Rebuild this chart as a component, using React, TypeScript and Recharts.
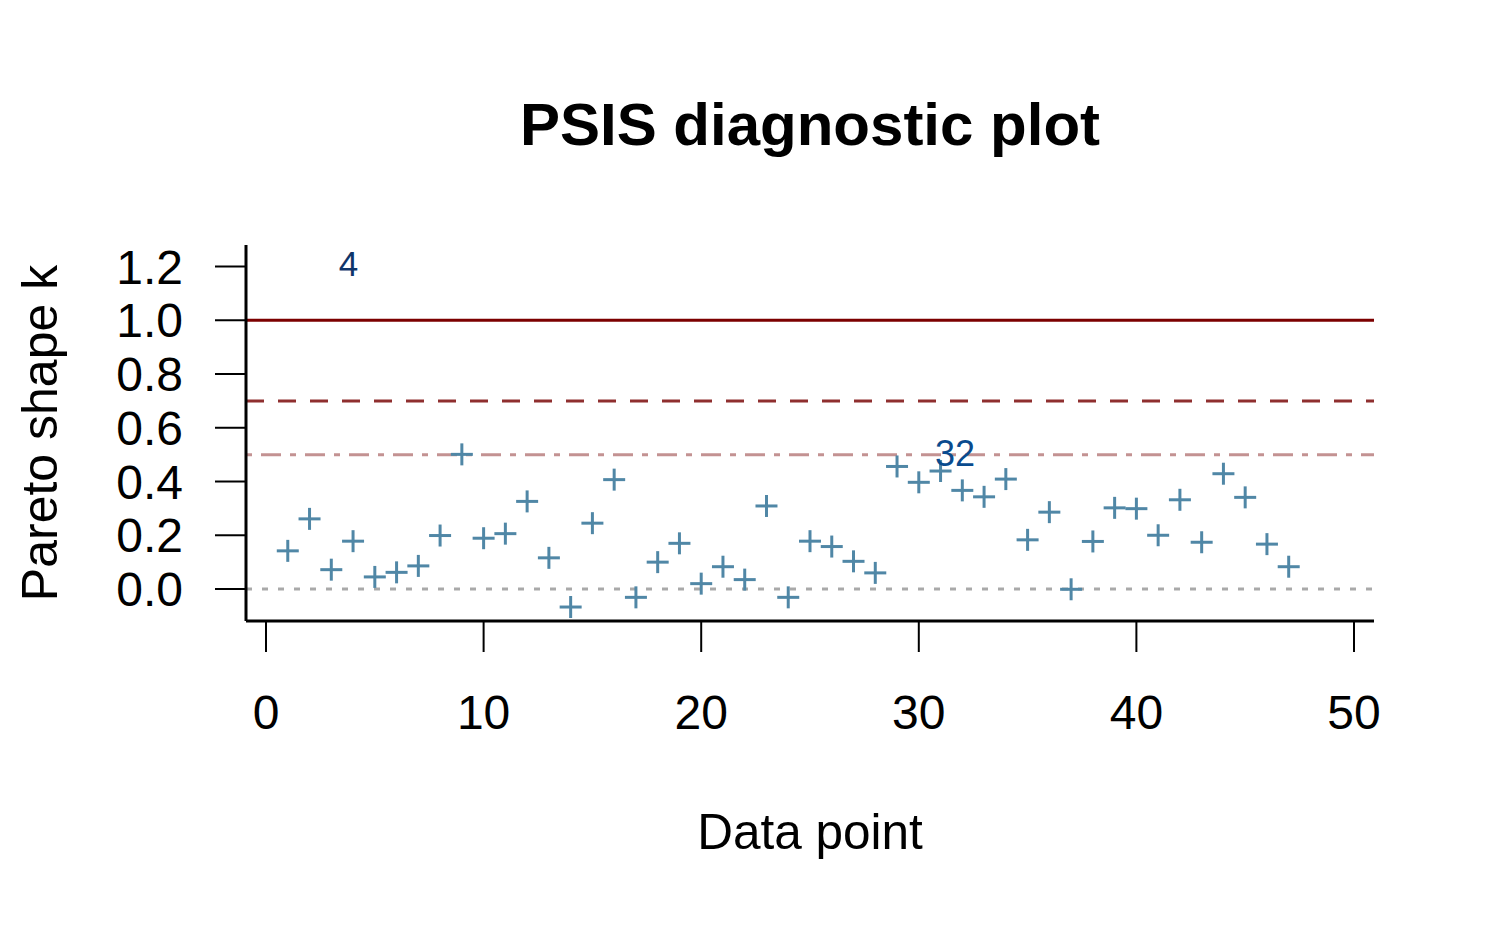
import React from 'react';
import { ScatterChart, Scatter, XAxis, YAxis, ReferenceLine } from 'recharts';

const paretoK: number[] = [
  0.142, 0.261, 0.072, 0.178, 0.045, 0.062, 0.086, 0.199, 0.501, 0.189,
  0.206, 0.326, 0.116, -0.067, 0.245, 0.407, -0.031, 0.100, 0.170, 0.020,
  0.083, 0.035, 0.309, -0.031, 0.178, 0.158, 0.103, 0.060, 0.456, 0.397,
  0.439, 0.367, 0.343, 0.409, 0.183, 0.286, -0.001, 0.177, 0.302, 0.299,
  0.200, 0.332, 0.174, 0.429, 0.341, 0.167, 0.083,
];

const labelText: string[] = ['4', '32'];
const labelX: number[] = [3.79, 31.66];
const labelY: number[] = [1.212, 0.506];
const labelColors: string[] = ['#0f356a', '#0a4b8e'];
const labelSizes: number[] = [35, 36];

const thresholds: number[] = [0, 0.5, 0.7, 1];
const thresholdColors: string[] = ['#a9a9a9', '#c39292', '#8f2f2f', '#7c0000'];
const thresholdDash: string[] = ['6 10', '6 9 20 9', '18 14', ''];

const xTicks: number[] = [0, 10, 20, 30, 40, 50];
const yTicks: number[] = [0, 0.2, 0.4, 0.6, 0.8, 1.0, 1.2];

const pointData = paretoK.map((k, i) => ({ x: i + 1, y: k }));
const labelData = labelText.map((t, i) => ({ x: labelX[i], y: labelY[i], text: t, color: labelColors[i], size: labelSizes[i] }));

const FONT = '"Liberation Sans", Arial, Helvetica, sans-serif';
const POINT_COLOR = '#5087a6';

const PlusShape = (props: any) => {
  const { cx, cy } = props;
  if (cx == null || cy == null) return null;
  const r = 11;
  return (
    <g>
      <line x1={cx - r} x2={cx + r} y1={cy} y2={cy} stroke={POINT_COLOR} strokeWidth={3} />
      <line x1={cx} x2={cx} y1={cy - r} y2={cy + r} stroke={POINT_COLOR} strokeWidth={3} />
    </g>
  );
};

const TextShape = (props: any) => {
  const { cx, cy, payload } = props;
  if (cx == null || cy == null) return null;
  return (
    <text
      x={cx}
      y={cy}
      textAnchor="middle"
      dominantBaseline="central"
      fontSize={payload.size}
      fill={payload.color}
      fontFamily={FONT}
    >
      {payload.text}
    </text>
  );
};

export default function App() {
  return (
    <div style={{ position: 'absolute', left: 0, top: 0, width: 1500, height: 927, background: '#ffffff', fontFamily: FONT }}>
      <ScatterChart
        width={1500}
        height={927}
        margin={{ top: 245, right: 126, bottom: 276, left: 186 }}
      >
        <XAxis
          type="number"
          dataKey="x"
          domain={[-0.92, 50.92]}
          ticks={xTicks}
          allowDataOverflow
          height={30}
          tickSize={31}
          tickMargin={43}
          axisLine={{ stroke: '#000', strokeWidth: 3 }}
          tickLine={{ stroke: '#000', strokeWidth: 2 }}
          tick={{ fontSize: 48, fill: '#000', fontFamily: FONT }}
          interval={0}
        />
        <YAxis
          type="number"
          dataKey="y"
          domain={[-0.119, 1.28]}
          ticks={yTicks}
          allowDataOverflow
          width={60}
          tickSize={31}
          tickMargin={32}
          axisLine={{ stroke: '#000', strokeWidth: 3 }}
          tickLine={{ stroke: '#000', strokeWidth: 2 }}
          tick={{ fontSize: 48, fill: '#000', fontFamily: FONT }}
          tickFormatter={(v: number) => v.toFixed(1)}
          interval={0}
        />
        {thresholds.map((t, i) => (
          <ReferenceLine
            key={t}
            y={t}
            stroke={thresholdColors[i]}
            strokeWidth={3}
            strokeDasharray={thresholdDash[i] || undefined}
            ifOverflow="visible"
          />
        ))}
        <Scatter data={pointData} shape={<PlusShape />} isAnimationActive={false} />
        <Scatter data={labelData} shape={<TextShape />} isAnimationActive={false} />
      </ScatterChart>
      <svg
        width={1500}
        height={927}
        style={{ position: 'absolute', left: 0, top: 0, pointerEvents: 'none' }}
      >
        <text x={810} y={145} textAnchor="middle" fontSize={60} fontWeight="bold" fontFamily={FONT} fill="#000">
          PSIS diagnostic plot
        </text>
        <text x={810} y={849} textAnchor="middle" fontSize={49.5} fontFamily={FONT} fill="#000">
          Data point
        </text>
        <text
          x={57}
          y={433}
          textAnchor="middle"
          fontSize={50}
          fontFamily={FONT}
          fill="#000"
          transform="rotate(-90 57 433)"
        >
          Pareto shape k
        </text>
      </svg>
    </div>
  );
}
